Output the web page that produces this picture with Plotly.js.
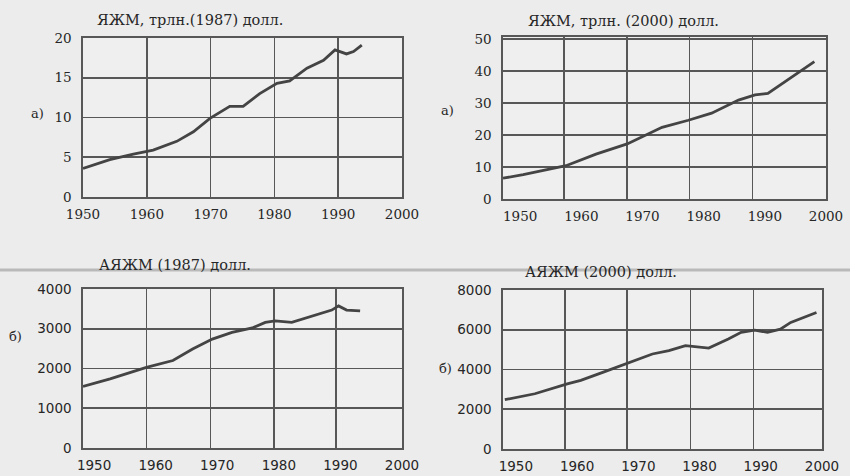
<!DOCTYPE html>
<html>
<head>
<meta charset="utf-8">
<script src="https://cdn.plot.ly/plotly-3.0.1.min.js"></script>
<style>html,body{margin:0;padding:0;background:#ececec;}#chart{width:850px;height:476px;}</style>
</head>
<body>
<div id="chart"></div>
<script>
// ---- data ----
const titles = ["ЯЖМ, трлн.(1987) долл.", "ЯЖМ, трлн. (2000) долл.", "АЯЖМ (1987) долл.", "АЯЖМ (2000) долл."];
const panelLabels = ["а)", "а)", "б)", "б)"];
const xTickVals = [1950, 1960, 1970, 1980, 1990, 2000];

// a) GWP, trillion 1987 dollars
const yearsA1987 = [1950, 1954.2, 1957.9, 1961, 1964.7, 1967.3, 1969.9, 1973, 1975.1, 1977.7, 1980.4, 1982.4, 1985.1, 1987.7, 1989.5, 1991.3, 1992.4, 1993.7];
const gwp1987    = [3.6, 4.7, 5.4, 5.9, 7.0, 8.2, 9.9, 11.4, 11.4, 13.0, 14.3, 14.6, 16.2, 17.2, 18.5, 18.0, 18.3, 19.1];

// a) GWP, trillion 2000 dollars
const yearsA2000 = [1947.2, 1950.5, 1957.5, 1962.4, 1967.5, 1973.2, 1977.5, 1981.3, 1985.7, 1988.4, 1990.5, 1993.8, 1998.1];
const gwp2000    = [6.5, 7.6, 10.4, 14.0, 17.2, 22.4, 24.6, 26.8, 30.9, 32.5, 33.0, 37.2, 42.9];

// b) GWP per capita, 1987 dollars
const yearsB1987 = [1948.2, 1952.6, 1958.5, 1962.8, 1966, 1969.2, 1972.4, 1975.7, 1977.8, 1979.4, 1982.1, 1985.3, 1988.6, 1989.7, 1991, 1993.2];
const gwpPc1987  = [1550, 1740, 2030, 2200, 2490, 2740, 2910, 3020, 3160, 3200, 3160, 3320, 3470, 3575, 3470, 3450];

// b) GWP per capita, 2000 dollars
const yearsB2000 = [1948.2, 1953.1, 1958.4, 1960.6, 1964.3, 1968.6, 1972.3, 1975, 1977.7, 1981.5, 1984.7, 1986.8, 1989, 1991.1, 1993.2, 1994.9, 1999.1];
const gwpPc2000  = [2480, 2780, 3280, 3450, 3870, 4370, 4780, 4950, 5200, 5080, 5530, 5870, 5980, 5870, 6030, 6370, 6870];

// grid positions (scan has vertical grid slightly off the labels)
const gridA1987 = [1960, 1970, 1980, 1990];
const gridA2000 = [1957.2, 1967.5, 1977.7, 1988];
const gridB1987 = [1958.5, 1968.9, 1979.2, 1989.3];
const gridB2000 = [1958, 1968.2, 1978.5, 1988.8];

const yTicksA1987 = [0, 5, 10, 15, 20];
const yTicksA2000 = [0, 10, 20, 30, 40, 50];
const yTicksB1987 = [0, 1000, 2000, 3000, 4000];
const yTicksB2000 = [0, 2000, 4000, 6000, 8000];

// ---- styling ----
const W = 850, H = 476;
const lineCol = '#444444', gridCol = '#575757', txtCol = '#262626';
const serif = 'DejaVu Serif, serif', sans = 'DejaVu Sans, sans-serif';

function dx(a, b) { return [a / W, b / W]; }
function dy(top, bottom) { return [1 - bottom / H, 1 - top / H]; }

const panels = [
  {x: yearsA1987, y: gwp1987, xr: [1950, 2000], yr: [0, 20], xd: dx(83, 402), yd: dy(38, 197), grid: gridA1987, yt: yTicksA1987, font: serif},
  {x: yearsA2000, y: gwp2000, xr: [1947.2, 2000], yr: [0, 50.6], xd: dx(503, 826), yd: dy(37, 199), grid: gridA2000, yt: yTicksA2000, font: serif},
  {x: yearsB1987, y: gwpPc1987, xr: [1948.2, 2000], yr: [0, 4000], xd: dx(83, 402), yd: dy(289, 448), grid: gridB1987, yt: yTicksB1987, font: sans},
  {x: yearsB2000, y: gwpPc2000, xr: [1947.9, 2000], yr: [0, 8000], xd: dx(503, 822), yd: dy(290, 449), grid: gridB2000, yt: yTicksB2000, font: sans}
];

const data = [];
const layout = {
  width: W, height: H,
  margin: {l: 0, r: 0, t: 0, b: 0},
  paper_bgcolor: '#ececec',
  plot_bgcolor: '#efefef',
  showlegend: false,
  annotations: [],
  shapes: [
    {type: 'line', xref: 'paper', yref: 'paper', x0: 0, x1: 1, y0: 1 - 270 / H, y1: 1 - 270 / H,
     line: {color: '#b9b9b9', width: 3}, layer: 'below'}
  ]
};

const titlePos = [[190, 20], [623, 21], [175, 265], [601, 272]];
const labelPos = [[37, 113], [447, 110], [16, 336], [446, 368]];

panels.forEach((p, i) => {
  const n = i + 1;
  const xa = n === 1 ? 'x' : 'x' + n, ya = n === 1 ? 'y' : 'y' + n;
  const ga = 'x' + (n + 4);
  data.push({x: p.x, y: p.y, xaxis: xa, yaxis: ya, type: 'scatter', mode: 'lines',
             line: {color: lineCol, width: 2.8}, hoverinfo: 'x+y'});
  data.push({x: [null], y: [null], xaxis: ga, yaxis: ya, type: 'scatter', mode: 'lines', hoverinfo: 'skip'});

  layout['xaxis' + (n === 1 ? '' : n)] = {
    domain: p.xd, range: p.xr, anchor: ya, tickvals: xTickVals,
    showgrid: false, zeroline: false, showline: true, mirror: true,
    linecolor: gridCol, linewidth: 1.7, ticks: '', ticklabelstandoff: 4,
    tickfont: {family: p.font, size: 13.5, color: txtCol}
  };
  layout['yaxis' + (n === 1 ? '' : n)] = {
    domain: p.yd, range: p.yr, anchor: xa, tickvals: p.yt,
    showgrid: true, gridcolor: gridCol, gridwidth: 1.7, zeroline: false,
    showline: true, mirror: true, linecolor: gridCol, linewidth: 1.7,
    ticks: '', ticklabelstandoff: 7,
    tickfont: {family: p.font, size: 13.5, color: txtCol}
  };
  layout['xaxis' + (n + 4)] = {
    overlaying: xa, anchor: ya, range: p.xr, tickvals: p.grid,
    showgrid: true, gridcolor: gridCol, gridwidth: 1.7, zeroline: false,
    showticklabels: false, ticks: '', showline: false
  };

  layout.annotations.push({
    text: titles[i], xref: 'paper', yref: 'paper', x: titlePos[i][0] / W, y: 1 - titlePos[i][1] / H,
    xanchor: 'center', yanchor: 'middle', showarrow: false,
    font: {family: serif, size: 14.5, color: txtCol}
  });
  layout.annotations.push({
    text: panelLabels[i], xref: 'paper', yref: 'paper', x: labelPos[i][0] / W, y: 1 - labelPos[i][1] / H,
    xanchor: 'center', yanchor: 'middle', showarrow: false,
    font: {family: serif, size: 13, color: txtCol}
  });
});

Plotly.newPlot('chart', data, layout, {staticPlot: true, displayModeBar: false});
</script>
</body>
</html>
